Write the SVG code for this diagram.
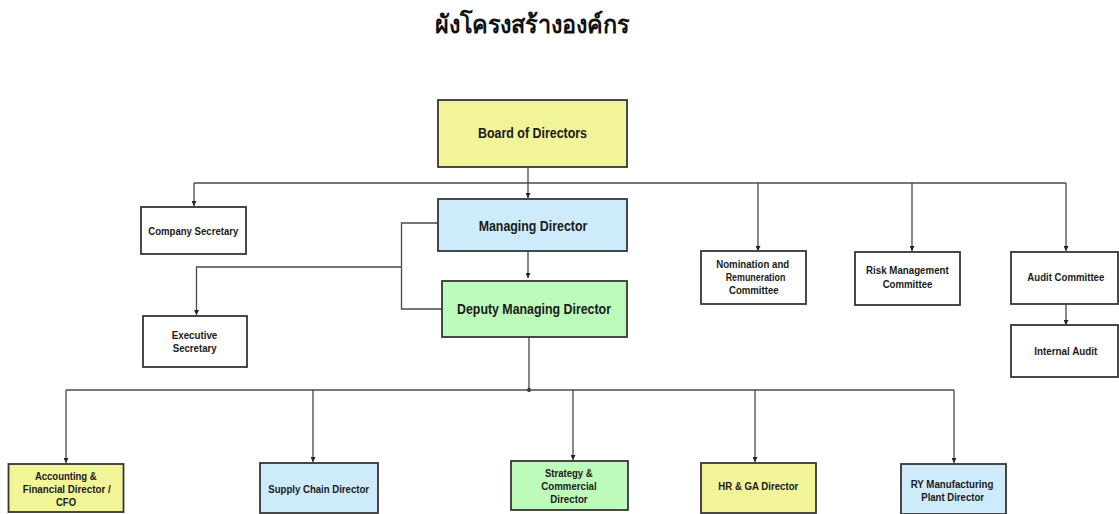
<svg xmlns="http://www.w3.org/2000/svg" width="1119" height="514" viewBox="0 0 1119 514">
<defs>
<style>
.box{stroke:#363636;stroke-width:1.8}
.w{fill:#ffffff}
.y{fill:#f1f597}
.b{fill:#cdebfb}
.g{fill:#bdfbba}
.t{font-family:"Liberation Sans",Arial,sans-serif;font-weight:bold;fill:#1a1a1a;text-anchor:middle}
.s{font-size:11.8px}
.l{font-size:14.5px}
.c{fill:none;stroke:#4a4a4a;stroke-width:1.3}
</style>
<marker id="ah" viewBox="0 0 6 6" refX="6" refY="3" markerWidth="5" markerHeight="5" orient="auto" markerUnits="userSpaceOnUse">
<path d="M0,0 L6,3 L0,6 Z" fill="#222"/>
</marker>
</defs>
<rect width="1119" height="514" fill="#ffffff"/>
<text x="532" y="33" font-family="'Liberation Serif','DejaVu Serif','DejaVu Sans',serif" font-weight="bold" font-size="25" fill="#111" text-anchor="middle" textLength="195" lengthAdjust="spacingAndGlyphs">ผังโครงสร้างองค์กร</text>
<g id="connectors">
<line class="c" x1="528" y1="168" x2="528" y2="198" marker-end="url(#ah)"/>
<line class="c" x1="194" y1="183" x2="1066" y2="183"/>
<line class="c" x1="194" y1="183" x2="194" y2="206" marker-end="url(#ah)"/>
<line class="c" x1="758" y1="183" x2="758" y2="251" marker-end="url(#ah)"/>
<line class="c" x1="912" y1="183" x2="912" y2="251" marker-end="url(#ah)"/>
<line class="c" x1="1066" y1="183" x2="1066" y2="251" marker-end="url(#ah)"/>
<line class="c" x1="1066" y1="304" x2="1066" y2="325" marker-end="url(#ah)"/>
<line class="c" x1="528" y1="252" x2="528" y2="278" marker-end="url(#ah)"/>
<path class="c" d="M438,223 H401.5 V309 H442" stroke-width="1.6"/>
<path class="c" d="M401.5,267 H196.5 V315" marker-end="url(#ah)"/>
<line class="c" x1="529" y1="337" x2="529" y2="390"/>
<circle cx="529" cy="390" r="2" fill="#222"/>
<line class="c" x1="66" y1="390" x2="954" y2="390"/>
<line class="c" x1="66" y1="390" x2="66" y2="463" marker-end="url(#ah)"/>
<line class="c" x1="313" y1="390" x2="313" y2="462" marker-end="url(#ah)"/>
<line class="c" x1="573" y1="390" x2="573" y2="460" marker-end="url(#ah)"/>
<line class="c" x1="755" y1="390" x2="755" y2="462" marker-end="url(#ah)"/>
<line class="c" x1="954" y1="390" x2="954" y2="463" marker-end="url(#ah)"/>
</g>
<g id="board">
<rect class="box y" x="438" y="100" width="189" height="67"/>
<text class="t l" x="532.5" y="138" textLength="109" lengthAdjust="spacingAndGlyphs">Board of Directors</text>
</g>
<g id="company-secretary">
<rect class="box w" x="141" y="207" width="105" height="47"/>
<text class="t s" x="193.3" y="235" textLength="90" lengthAdjust="spacingAndGlyphs">Company Secretary</text>
</g>
<g id="managing-director">
<rect class="box b" x="438" y="199" width="189" height="52"/>
<text class="t l" x="533" y="231" textLength="108.7" lengthAdjust="spacingAndGlyphs">Managing Director</text>
</g>
<g id="deputy-managing-director">
<rect class="box g" x="442" y="281" width="185" height="56"/>
<text class="t l" x="534" y="314" textLength="154" lengthAdjust="spacingAndGlyphs">Deputy Managing Director</text>
</g>
<g id="executive-secretary">
<rect class="box w" x="143" y="316" width="104" height="51"/>
<text class="t s" x="194.5" y="339" textLength="45.6" lengthAdjust="spacingAndGlyphs">Executive</text>
<text class="t s" x="194.7" y="352" textLength="44" lengthAdjust="spacingAndGlyphs">Secretary</text>
</g>
<g id="nomination">
<rect class="box w" x="701" y="251" width="105" height="53"/>
<text class="t s" x="752.7" y="268" textLength="73" lengthAdjust="spacingAndGlyphs">Nomination and</text>
<text class="t s" x="755.5" y="281" textLength="59.7" lengthAdjust="spacingAndGlyphs">Remuneration</text>
<text class="t s" x="753.8" y="294" textLength="49.7" lengthAdjust="spacingAndGlyphs">Committee</text>
</g>
<g id="risk-management">
<rect class="box w" x="855" y="252" width="105" height="53"/>
<text class="t s" x="907.4" y="274" textLength="82.7" lengthAdjust="spacingAndGlyphs">Risk Management</text>
<text class="t s" x="907.5" y="287.5" textLength="49.7" lengthAdjust="spacingAndGlyphs">Committee</text>
</g>
<g id="audit-committee">
<rect class="box w" x="1011" y="252" width="107" height="52"/>
<text class="t s" x="1065.8" y="281.3" textLength="77" lengthAdjust="spacingAndGlyphs">Audit Committee</text>
</g>
<g id="internal-audit">
<rect class="box w" x="1011" y="325" width="107" height="52"/>
<text class="t s" x="1065.8" y="355" textLength="63" lengthAdjust="spacingAndGlyphs">Internal Audit</text>
</g>
<g id="accounting">
<rect class="box y" x="8.5" y="464" width="115" height="48"/>
<text class="t s" x="65.8" y="480" textLength="61.7" lengthAdjust="spacingAndGlyphs">Accounting &amp;</text>
<text class="t s" x="66.7" y="493" textLength="88" lengthAdjust="spacingAndGlyphs">Financial Director /</text>
<text class="t s" x="66" y="506" textLength="20" lengthAdjust="spacingAndGlyphs">CFO</text>
</g>
<g id="supply-chain">
<rect class="box b" x="260" y="463" width="118" height="50"/>
<text class="t s" x="318.7" y="492.7" textLength="100.7" lengthAdjust="spacingAndGlyphs">Supply Chain Director</text>
</g>
<g id="strategy">
<rect class="box g" x="511" y="461" width="117" height="49"/>
<text class="t s" x="568.8" y="476.7" textLength="47.7" lengthAdjust="spacingAndGlyphs">Strategy &amp;</text>
<text class="t s" x="569" y="490" textLength="55.3" lengthAdjust="spacingAndGlyphs">Commercial</text>
<text class="t s" x="569" y="502.7" textLength="37.3" lengthAdjust="spacingAndGlyphs">Director</text>
</g>
<g id="hr-ga">
<rect class="box y" x="701" y="463" width="115" height="50"/>
<text class="t s" x="758.3" y="490" textLength="80" lengthAdjust="spacingAndGlyphs">HR &amp; GA Director</text>
</g>
<g id="ry-manufacturing">
<rect class="box b" x="901" y="464" width="105" height="50"/>
<text class="t s" x="952" y="488" textLength="82.7" lengthAdjust="spacingAndGlyphs">RY Manufacturing</text>
<text class="t s" x="952.6" y="500.7" textLength="62.7" lengthAdjust="spacingAndGlyphs">Plant Director</text>
</g>
</svg>
